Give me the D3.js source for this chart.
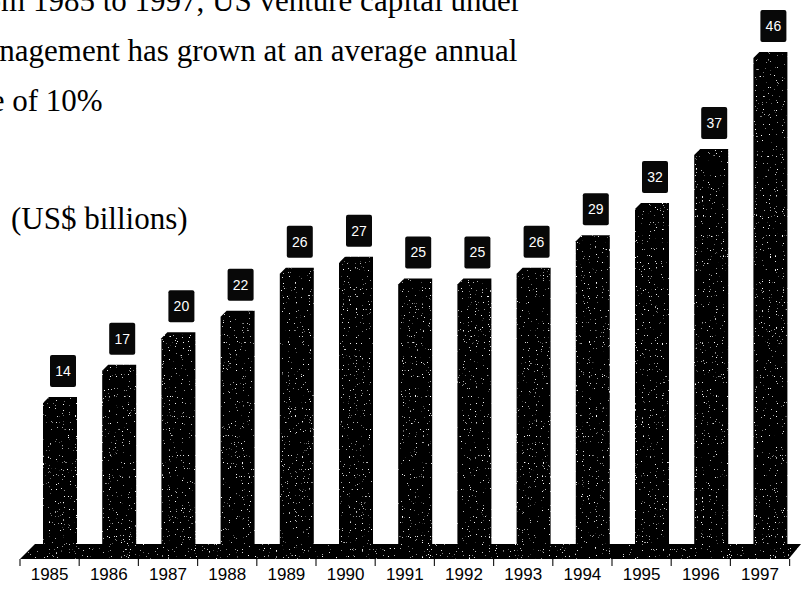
<!DOCTYPE html>
<html>
<head>
<meta charset="utf-8">
<script src="https://cdn.jsdelivr.net/npm/d3@7"></script>
<style>
  html, body { margin: 0; padding: 0; background: #fff; }
  svg { display: block; }
</style>
</head>
<body>
<svg id="chart" width="801" height="595"></svg>
<script>
// Venture capital under management, US$ billions
const years = ["1985","1986","1987","1988","1989","1990","1991","1992","1993","1994","1995","1996","1997"];
const capital = [14, 17, 20, 22, 26, 27, 25, 25, 26, 29, 32, 37, 46];
const titleLines = [
  "From 1985 to 1997, US venture capital under",
  "Management has grown at an average annual",
  "rate of 10%"
];
const unitLabel = "(US$ billions)";

const W = 801, H = 595;
const svg = d3.select("#chart");

// speckled print texture for the solid marks
const defs = svg.append("defs");
const grain = defs.append("filter").attr("id", "grain")
  .attr("filterUnits", "userSpaceOnUse")
  .attr("x", 0).attr("y", 0).attr("width", W).attr("height", H);
grain.append("feTurbulence").attr("type", "fractalNoise")
  .attr("baseFrequency", 0.85).attr("numOctaves", 1).attr("seed", 7).attr("result", "noise");
grain.append("feColorMatrix").attr("in", "noise").attr("type", "matrix")
  .attr("values", "0 0 0 0 1  0 0 0 0 1  0 0 0 0 1  14 0 0 0 -9.6").attr("result", "dots");
grain.append("feComposite").attr("in", "dots").attr("in2", "SourceAlpha")
  .attr("operator", "in").attr("result", "clipped");
const merge = grain.append("feMerge");
merge.append("feMergeNode").attr("in", "SourceGraphic");
merge.append("feMergeNode").attr("in", "clipped");

// scales
const x = d3.scaleBand().domain(years).range([20, 789.6]).paddingInner(0).paddingOuter(0);
const y = d3.scaleLinear().domain([0, 46]).range([548, 52]);

const floorTop = 544, floorBottom = 559, depth = 15;
const barOffset = 23, barW = 34, chamfer = 6;

// title text
const title = svg.append("g")
  .attr("font-family", "'Liberation Serif', 'Times New Roman', serif")
  .attr("font-size", 31).attr("fill", "#000");
title.selectAll("text").data(titleLines).join("text")
  .attr("x", -42)
  .attr("y", (d, i) => 11 + i * 50)
  .text(d => d);

svg.append("text")
  .attr("x", 11).attr("y", 229)
  .attr("font-family", "'Liberation Serif', 'Times New Roman', serif")
  .attr("font-size", 31).attr("fill", "#000")
  .text(unitLabel);

// bars and floor slab
const solid = svg.append("g").attr("filter", "url(#grain)");

const x0 = x.range()[0], x1 = x.range()[1];
solid.append("path")
  .attr("d", `M${x0},${floorBottom} L${x0 + depth},${floorTop} L${W},${floorTop} L${x1 - 1},${floorBottom} Z`)
  .attr("fill", "#050505");

solid.selectAll("path.bar").data(years).join("path")
  .attr("class", "bar")
  .attr("fill", "#050505")
  .attr("d", (d, i) => {
    const bx = x(d) + barOffset;
    const top = y(capital[i]);
    return `M${bx},${floorTop + 1} L${bx},${top + chamfer} L${bx + chamfer},${top} ` +
           `L${bx + barW},${top} L${bx + barW},${floorTop + 1} Z`;
  });

// category ticks and labels
const axis = d3.axisBottom(x).tickSize(0).tickFormat(d => d);
const axisG = svg.append("g").attr("transform", `translate(0,${floorBottom})`).call(axis);
axisG.select(".domain").remove();
axisG.selectAll("text")
  .attr("font-family", "'Liberation Sans', Arial, sans-serif")
  .attr("font-size", 17).attr("fill", "#000")
  .attr("dy", 0).attr("y", 21);

svg.append("g").selectAll("line").data(d3.range(years.length + 1)).join("line")
  .attr("x1", i => x0 + i * x.step()).attr("x2", i => x0 + i * x.step())
  .attr("y1", floorBottom).attr("y2", floorBottom + 7)
  .attr("stroke", "#222").attr("stroke-width", 1.2);

// value labels in dark boxes above each bar
const labels = svg.append("g").selectAll("g").data(years).join("g")
  .attr("transform", (d, i) => `translate(${x(d) + barOffset + barW / 2 + 3},${y(capital[i]) - 10})`);
labels.append("rect")
  .attr("x", -13).attr("y", -32).attr("width", 26).attr("height", 32)
  .attr("rx", 2).attr("fill", "#080808");
labels.append("text")
  .attr("x", 0).attr("y", -11)
  .attr("text-anchor", "middle")
  .attr("font-family", "'Liberation Sans', Arial, sans-serif")
  .attr("font-size", 14).attr("fill", "#fff")
  .text((d, i) => capital[i]);
</script>
</body>
</html>
